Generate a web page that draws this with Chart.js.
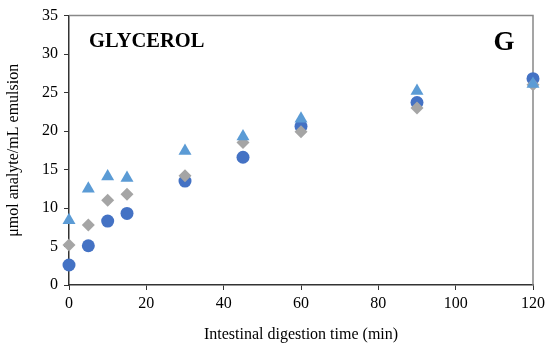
<!DOCTYPE html>
<html>
<head>
<meta charset="utf-8">
<script src="https://cdn.jsdelivr.net/npm/chart.js@4.4.1/dist/chart.umd.min.js"></script>
<style>
  html, body { margin: 0; padding: 0; background: #fff; }
  #wrap { width: 549px; height: 352px; }
</style>
</head>
<body>
<div id="wrap"><canvas id="chart" width="549" height="352"></canvas></div>
<script>
const times     = [0, 5, 10, 15, 30, 45, 60, 90, 120];
const seriesTri = [8.4, 12.5, 14.1, 13.9, 17.4, 19.3, 21.6, 25.2, 26.1];
const seriesDia = [5.2, 7.8, 11.0, 11.8, 14.2, 18.5, 19.9, 23.0, 26.0];
const seriesCir = [2.6, 5.1, 8.3, 9.3, 13.5, 16.6, 20.6, 23.7, 26.8];

const FONT = "'Liberation Serif', 'Times New Roman', serif";

function pts(values) {
    return times.map((t, i) => ({ x: t, y: values[i] }));
}

// gray frame on top/right + panel labels
const framePlugin = {
    id: 'frame',
    beforeDatasetsDraw(chart) {
        const a = chart.chartArea;
        const ctx = chart.ctx;
        ctx.save();
        ctx.strokeStyle = '#888888';
        ctx.lineWidth = 1.5;
        ctx.beginPath();
        ctx.moveTo(a.left, a.top);
        ctx.lineTo(a.right, a.top);
        ctx.lineTo(a.right, a.bottom);
        ctx.stroke();
        ctx.restore();
    },
    afterDraw(chart) {
        const a = chart.chartArea;
        const ctx = chart.ctx;
        ctx.save();
        ctx.fillStyle = '#000';
        ctx.textBaseline = 'middle';
        ctx.font = 'bold 20.5px ' + FONT;
        ctx.textAlign = 'left';
        ctx.fillText('GLYCEROL', a.left + 20, 42);
        ctx.font = 'bold 27px ' + FONT;
        ctx.textAlign = 'center';
        ctx.fillText('G', a.left + 435, 43);
        ctx.restore();
    }
};

new Chart(
    document.getElementById('chart'),
    {
        type: 'scatter',
        data: {
            datasets: [
                {
                    label: 'triangle',
                    data: pts(seriesTri),
                    pointStyle: 'triangle',
                    pointRadius: 7.5,
                    backgroundColor: '#5B9BD5',
                    borderColor: '#5B9BD5',
                    borderWidth: 0,
                    clip: false
                },
                {
                    label: 'diamond',
                    data: pts(seriesDia),
                    pointStyle: 'rectRot',
                    pointRadius: 6.5,
                    backgroundColor: '#A5A5A5',
                    borderColor: '#A5A5A5',
                    borderWidth: 0,
                    clip: false
                },
                {
                    label: 'circle',
                    data: pts(seriesCir),
                    pointStyle: 'circle',
                    pointRadius: 6.5,
                    backgroundColor: '#4472C4',
                    borderColor: '#4472C4',
                    borderWidth: 0,
                    clip: false
                }
            ]
        },
        options: {
            responsive: false,
            animation: false,
            layout: {
                padding: { top: 15, right: 14, left: 0, bottom: 0 }
            },
            plugins: {
                legend: { display: false },
                tooltip: { enabled: false }
            },
            scales: {
                x: {
                    type: 'linear',
                    min: 0,
                    max: 120,
                    afterFit(scale) { scale.height = 67; },
                    ticks: {
                        stepSize: 20,
                        color: '#000',
                        padding: 4,
                        font: { family: FONT, size: 16 }
                    },
                    grid: {
                        drawOnChartArea: false,
                        drawTicks: true,
                        tickLength: 5,
                        color: '#333333'
                    },
                    border: { color: '#333333', width: 1.5 },
                    title: {
                        display: true,
                        text: 'Intestinal digestion time (min)',
                        color: '#000',
                        font: { family: FONT, size: 16 },
                        padding: { top: 2, bottom: 8 }
                    }
                },
                y: {
                    type: 'linear',
                    min: 0,
                    max: 35,
                    afterFit(scale) { scale.width = 69; },
                    ticks: {
                        stepSize: 5,
                        color: '#000',
                        padding: 6,
                        font: { family: FONT, size: 16 }
                    },
                    grid: {
                        drawOnChartArea: false,
                        drawTicks: true,
                        tickLength: 5,
                        color: '#333333'
                    },
                    border: { color: '#333333', width: 1.5 },
                    title: {
                        display: true,
                        text: 'μmol analyte/mL emulsion',
                        color: '#000',
                        font: { family: FONT, size: 16 },
                        padding: { bottom: 4 }
                    }
                }
            }
        },
        plugins: [framePlugin]
    }
);
</script>
</body>
</html>
